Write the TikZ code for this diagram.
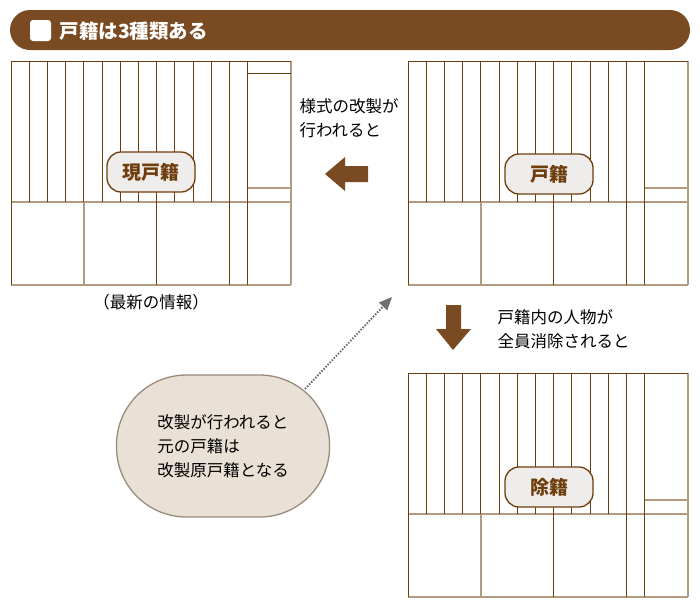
\documentclass[tikz,border=0pt]{standalone}
\usepackage{fontspec}
\setmainfont{Noto Sans CJK JP}
\usetikzlibrary{arrows.meta,positioning}
\definecolor{brownhead}{HTML}{7A4B22}
\definecolor{darkline}{HTML}{6E3D0C}
\definecolor{lightline}{HTML}{B29B80}
\definecolor{pillfill}{HTML}{EFEDEC}
\definecolor{bubblefill}{HTML}{E9E1D5}
\definecolor{bubbleline}{HTML}{9A8A7C}
\definecolor{dotgray}{HTML}{707070}
\tikzset{
  pill/.style={draw=darkline,line width=1.3pt,fill=pillfill,rounded corners=14pt,
    minimum width=88pt,minimum height=40pt,text=darkline,font=\bfseries\fontsize{19}{19}\selectfont},
  note/.style={font=\fontsize{16.5}{24}\selectfont,align=left},
}
% one register sheet: origin x, origin y
\newcommand{\sheet}[2]{
  \begin{scope}[shift={(#1,#2)}]
    \draw[lightline,line width=1.2pt] (0,141) -- (280,141) (236,127) -- (280,127)
      (0,224) -- (280,224) (280,0) -- (280,224) (73,141) -- (73,224);
    \foreach \i in {1,...,12}
      \draw[darkline,line width=1pt] (\i*18.2,0) -- (\i*18.2,141);
    \draw[darkline,line width=1pt] (0,224) -- (0,0) -- (280,0)
      (145,141) -- (145,224) (218,0) -- (218,224) (236,0) -- (236,224);
  \end{scope}
}
\begin{document}
\begin{tikzpicture}[x=1pt,y=-1pt]
\useasboundingbox (0,0) rectangle (700,606);
% title bar
\fill[brownhead,rounded corners=20pt] (10,10) rectangle (690,50);
\fill[white,rounded corners=3pt] (30,20) rectangle (51,41);
\node[anchor=west,text=white,font=\bfseries\fontsize{19.5}{20}\selectfont] (title) at (56,31) {戸籍は3種類ある};
% sheets
\sheet{11}{61}
\draw[darkline,line width=1pt] (247,73) -- (291,73);
\sheet{408}{61}
\sheet{408}{373}
\node[pill] (current) at (151,172) {現戸籍};
\node[pill] (koseki) at (549,174) {戸籍};
\node[pill] (joseki) at (549,487) {除籍};
\node[note] (latest) at (151,302) {（最新の情報）};
% arrows
\fill[brownhead] (325,174) -- (345,157) -- (345,166) -- (368,166) -- (368,182) -- (345,182) -- (345,191) -- cycle;
\node[note,anchor=west] (change) at (296,118) {様式の改製が\\行われると};
\fill[brownhead] (453,350) -- (436,329) -- (446,329) -- (446,305) -- (461,305) -- (461,329) -- (471,329) -- cycle;
\node[note,anchor=west] (delete) at (494,329) {戸籍内の人物が\\全員消除されると};
% bubble
\node[draw=bubbleline,line width=1.3pt,fill=bubblefill,rounded corners=70pt,
  minimum width=213pt,minimum height=142pt,note] (bubble) at (223,446)
  {改製が行われると\\元の戸籍は\\改製原戸籍となる};
\coordinate (tip) at (392,297);
\draw[dotgray,line width=2pt,dash pattern=on 1.5pt off 1.5pt,-{Triangle[length=13pt,width=11pt]}]
  (305,389) -- (tip);
\end{tikzpicture}
\end{document}
